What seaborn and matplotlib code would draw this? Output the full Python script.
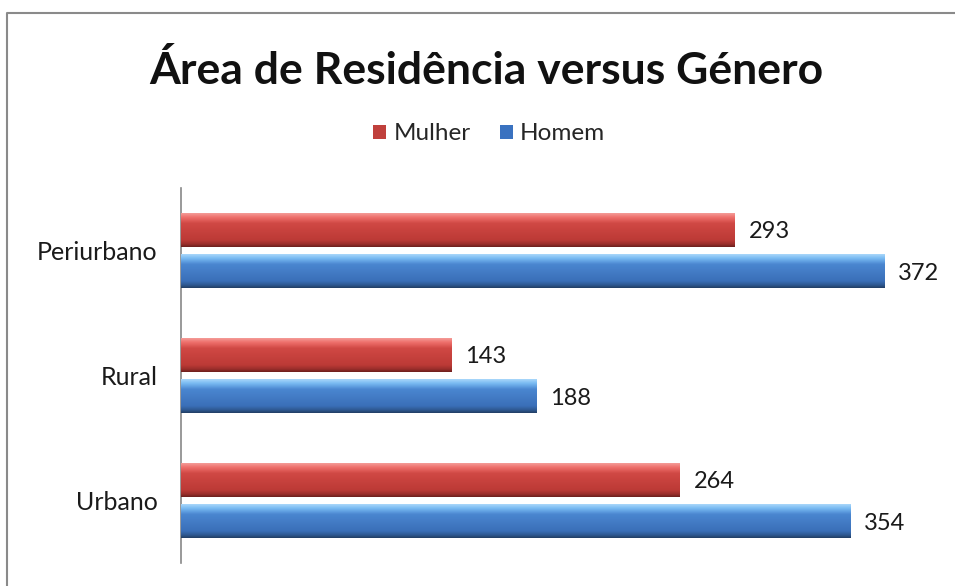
import matplotlib
matplotlib.use("Agg")
import matplotlib.pyplot as plt
import matplotlib.patches as mpatches
from matplotlib.lines import Line2D
from matplotlib.colors import LinearSegmentedColormap
import numpy as np
import pandas as pd
import seaborn as sns

# dados
areas = ["Periurbano", "Rural", "Urbano"]
generos = ["Mulher", "Homem"]
mulher = [293, 143, 264]
homem = [372, 188, 354]

df = pd.DataFrame({
    "Área": areas * 2,
    "Género": ["Mulher"] * len(areas) + ["Homem"] * len(areas),
    "Total": mulher + homem,
})

sns.set_theme(style="white")
plt.rcParams["font.family"] = ["Lato", "DejaVu Sans"]

cores = {"Mulher": "#C0403C", "Homem": "#3A72C0"}
# gradientes para imitar o efeito 3D do Excel
gradientes = {
    "Mulher": LinearSegmentedColormap.from_list(
        "mulher", [(0, "#F49A96"), (0.12, "#EE6F6B"), (0.3, "#D04844"), (0.8, "#BC3A36"), (0.92, "#9A2E2B"), (1, "#6E201E")]),
    "Homem": LinearSegmentedColormap.from_list(
        "homem", [(0, "#A8D6FA"), (0.12, "#78BAF2"), (0.3, "#4A86D0"), (0.8, "#3A6FB8"), (0.92, "#2E5890"), (1, "#223F66")]),
}

fig = plt.figure(figsize=(9.55, 5.86), dpi=100)
ax = fig.add_axes([181 / 955, 1 - 563 / 586, 756 / 955, 375 / 586])

sns.barplot(data=df, y="Área", x="Total", hue="Género", hue_order=generos,
            order=areas, palette=cores, orient="h", width=0.66, gap=0.18,
            legend=False, ax=ax, edgecolor="none")

for container, g in zip(ax.containers, generos):
    for p in container:
        x0, y0, w, h = p.get_x(), p.get_y(), p.get_width(), p.get_height()
        grad = np.linspace(0, 1, 64).reshape(-1, 1)
        im = ax.imshow(grad, extent=[x0, x0 + w, y0 + h, y0], origin="upper",
                       aspect="auto", cmap=gradientes[g], zorder=3)
        im.set_clip_path(p)
    labels = ax.bar_label(container, padding=10, fontsize=17, color="#1a1a1a")
    for t in labels:
        t.set_va("center_baseline")

ax.set_xlim(0, 400)
ax.set_ylim(2.5, -0.5)
ax.set_xlabel("")
ax.set_ylabel("")
ax.set_xticks([])
ax.tick_params(axis="y", length=0, pad=17, labelsize=18)
for lab in ax.get_yticklabels():
    lab.set_color("#1a1a1a")
for s in ["top", "right", "bottom"]:
    ax.spines[s].set_visible(False)
ax.spines["left"].set_color("#888888")
ax.spines["left"].set_linewidth(1.2)

fig.text(486 / 955, 1 - 71 / 586, "Área de Residência versus Género",
         ha="center", va="center", fontsize=32, fontweight="bold", color="#111111")

handles = [mpatches.Patch(facecolor=cores[g], edgecolor="none", label=g) for g in generos]
fig.legend(handles=handles, loc="center", bbox_to_anchor=(489 / 955, 1 - 134 / 586),
           ncol=2, frameon=False, fontsize=17.5, handlelength=0.55, handleheight=0.55,
           handletextpad=0.3, columnspacing=1.2)

# moldura do gráfico (só esquerda e topo ficam visíveis no recorte)
x_b, y_b = 7 / 955, 1 - 13 / 586
fig.add_artist(Line2D([x_b, x_b, 1.0], [0.0, y_b, y_b], transform=fig.transFigure,
                      color="#8a8a8a", linewidth=1.5))

fig.savefig("out.png", dpi=100)
